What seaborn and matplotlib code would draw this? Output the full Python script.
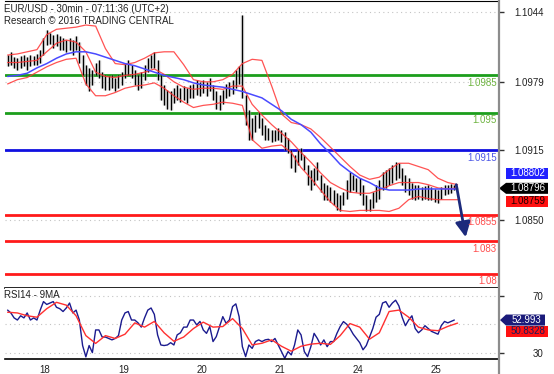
import matplotlib.pyplot as plt
import matplotlib.transforms as mtransforms
import seaborn as sns
from matplotlib.lines import Line2D
from matplotlib.patches import Polygon

# hours of trading time, 0 = 18th 00:00 (weekend skipped)
bar_hours = list(range(-9, 129))
bar_high = [1.1004, 1.1007, 1.1002, 1.1001, 1.1003, 1.1004, 1.1002, 1.1004, 1.1003, 1.1005, 1.1009, 1.1020,
            1.1027, 1.1025, 1.1023, 1.1024, 1.1022, 1.1020, 1.1018, 1.1020, 1.1018, 1.1022, 1.1016, 1.1004,
            1.0995, 1.0992, 1.0990, 1.0997, 1.0999, 1.0988, 1.0985, 1.0984, 1.0985, 1.0983, 1.0985, 1.0988,
            1.0997, 1.0999, 1.0995, 1.0990, 1.0985, 1.0988, 1.0995, 1.1001, 1.1004, 1.1007, 1.0999, 1.0985,
            1.0976, 1.0971, 1.0970, 1.0973, 1.0976, 1.0973, 1.0975, 1.0973, 1.0976, 1.0977, 1.0981, 1.0979,
            1.0981, 1.0979, 1.0983, 1.0976, 1.0970, 1.0967, 1.0971, 1.0977, 1.0979, 1.0981, 1.0990, 1.0994,
            1.1041, 1.0967, 1.0953, 1.0945, 1.0948, 1.0951, 1.0945, 1.0939, 1.0936, 1.0934, 1.0934, 1.0936,
            1.0934, 1.0932, 1.0927, 1.0915, 1.0911, 1.0915, 1.0917, 1.0911, 1.0901, 1.0897, 1.0899, 1.0904,
            1.0892, 1.0885, 1.0883, 1.0881, 1.0878, 1.0875, 1.0873, 1.0876, 1.0887, 1.0895, 1.0892, 1.0889,
            1.0889, 1.0883, 1.0873, 1.0870, 1.0876, 1.0883, 1.0887, 1.0895, 1.0897, 1.0899, 1.0901, 1.0904,
            1.0903, 1.0899, 1.0892, 1.0889, 1.0885, 1.0883, 1.0883, 1.0881, 1.0882, 1.0883, 1.0881, 1.0879,
            1.0878, 1.0881, 1.0883, 1.0883, 1.0884, 1.0883]
bar_low = [1.0994, 1.0995, 1.0992, 1.0990, 1.0992, 1.0994, 1.0990, 1.0994, 1.0995, 1.0995, 1.0997, 1.1004,
           1.1013, 1.1014, 1.1011, 1.1012, 1.1009, 1.1009, 1.1007, 1.1009, 1.1004, 1.1009, 1.0997, 1.0985,
           1.0976, 1.0970, 1.0976, 1.0985, 1.0983, 1.0973, 1.0971, 1.0971, 1.0973, 1.0970, 1.0973, 1.0976,
           1.0983, 1.0985, 1.0983, 1.0976, 1.0971, 1.0973, 1.0981, 1.0988, 1.0992, 1.0992, 1.0981, 1.0962,
           1.0957, 1.0954, 1.0953, 1.0959, 1.0962, 1.0960, 1.0962, 1.0959, 1.0964, 1.0964, 1.0967, 1.0966,
           1.0969, 1.0966, 1.0970, 1.0962, 1.0954, 1.0953, 1.0958, 1.0964, 1.0966, 1.0968, 1.0973, 1.0977,
           1.0964, 1.0939, 1.0925, 1.0925, 1.0932, 1.0936, 1.0929, 1.0925, 1.0925, 1.0923, 1.0924, 1.0925,
           1.0923, 1.0915, 1.0913, 1.0899, 1.0895, 1.0901, 1.0906, 1.0897, 1.0883, 1.0878, 1.0883, 1.0887,
           1.0876, 1.0869, 1.0869, 1.0867, 1.0864, 1.0859, 1.0858, 1.0864, 1.0870, 1.0876, 1.0878, 1.0876,
           1.0873, 1.0864, 1.0858, 1.0858, 1.0861, 1.0867, 1.0870, 1.0878, 1.0880, 1.0883, 1.0885, 1.0887,
           1.0889, 1.0883, 1.0876, 1.0873, 1.0870, 1.0869, 1.0870, 1.0869, 1.0870, 1.0869, 1.0869, 1.0867,
           1.0866, 1.0870, 1.0873, 1.0874, 1.0875, 1.0878]

# indicator lines, read every 3 hours
line_hours = list(range(-9, 130, 3))
bb_upper = [1.1004, 1.1005, 1.1007, 1.1009, 1.1023, 1.1028, 1.1029, 1.1030, 1.1032, 1.1031, 1.1010, 1.0996,
            1.0995, 1.0997, 1.1001, 1.1006, 1.1007, 1.1007, 1.0995, 1.0981, 1.0979, 1.0979, 1.0981, 1.0986,
            1.0996, 1.1000, 1.0999, 1.0975, 1.0949, 1.0941, 1.0939, 1.0935, 1.0927, 1.0918, 1.0909, 1.0900,
            1.0892, 1.0888, 1.0890, 1.0897, 1.0903, 1.0903, 1.0900, 1.0897, 1.0889, 1.0885, 1.0883]
bb_mid = [1.0997, 1.0997, 1.0998, 1.0999, 1.1007, 1.1015, 1.1018, 1.1016, 1.1007, 1.0988, 1.0984, 1.0983,
          1.0985, 1.0986, 1.0988, 1.0991, 1.0986, 1.0979, 1.0974, 1.0972, 1.0973, 1.0973, 1.0972, 1.0975,
          1.0975, 1.0958, 1.0948, 1.0939, 1.0931, 1.0923, 1.0913, 1.0904, 1.0894, 1.0885, 1.0880, 1.0876,
          1.0875, 1.0875, 1.0878, 1.0882, 1.0885, 1.0885, 1.0885, 1.0883, 1.0880, 1.0879, 1.0880]
bb_lower = [1.0977, 1.0981, 1.0983, 1.0988, 1.0993, 1.0997, 1.1000, 1.1001, 1.0977, 1.0966, 1.0966, 1.0969,
            1.0973, 1.0975, 1.0976, 1.0978, 1.0973, 1.0966, 1.0960, 1.0955, 1.0957, 1.0958, 1.0960, 1.0959,
            1.0957, 1.0925, 1.0917, 1.0919, 1.0920, 1.0913, 1.0899, 1.0889, 1.0878, 1.0867, 1.0859, 1.0858,
            1.0859, 1.0859, 1.0859, 1.0858, 1.0861, 1.0869, 1.0872, 1.0870, 1.0869, 1.0869, 1.0869]
ma_long = [1.0984, 1.0985, 1.0987, 1.0992, 1.0996, 1.1001, 1.1005, 1.1007, 1.1007, 1.1005, 1.1002, 1.0999,
           1.0996, 1.0994, 1.0991, 1.0988, 1.0985, 1.0983, 1.0981, 1.0978, 1.0976, 1.0975, 1.0974, 1.0972,
           1.0970, 1.0967, 1.0964, 1.0958, 1.0952, 1.0944, 1.0939, 1.0932, 1.0921, 1.0912, 1.0902, 1.0895,
           1.0889, 1.0885, 1.0880, 1.0878, 1.0878, 1.0878, 1.0879, 1.0879, 1.0879, 1.0879, 1.0879]

rsi14 = [60, 58, 54.5, 53, 56, 54.5, 58, 53, 54.5, 53, 60, 66,
         64, 65, 66, 62, 61, 59, 61.5, 65, 58, 60, 53, 35,
         27, 35, 30, 46, 46, 41, 41, 40, 39, 40, 42, 53,
         58, 59, 53, 53, 51, 48, 54.5, 60, 61.5, 57, 42.5, 35.4,
         35, 35.4, 37, 35.4, 42.5, 44, 48, 48, 53, 53, 49.5, 52,
         46, 43.6, 48.4, 37.8, 41.3, 48.4, 55.4, 50.7, 53, 62.5, 64.4, 55.4,
         34.2, 27.2, 35.4, 33, 37.8, 39, 37.8, 39, 39.4, 37.8, 40, 35.4,
         30.7, 26, 30.7, 28.4, 35.4, 46, 42.5, 30.7, 27.2, 34.2, 43.6, 40,
         35.4, 39, 34.2, 37.8, 37.8, 43.6, 48.4, 51.9, 50, 47, 43, 40,
         37, 32, 35, 41, 47, 55, 57, 65, 66, 62, 65, 67,
         63, 55, 49, 53, 56, 47, 44, 46, 49, 47, 45, 44,
         43, 49, 52, 51, 52, 52.993]
rsi_ma9 = [58.5, 58, 56, 55, 61, 65.5, 63.5, 56, 42, 36.5, 42, 40,
           43, 51, 48, 52, 44, 38, 41, 47, 51.5, 48, 48.4, 54,
           47, 35.4, 36.6, 39, 34.5, 31, 34.5, 36, 36.6, 35.8, 42, 50.5,
           48, 39.5, 44, 59, 60, 55, 48, 46, 45.5, 48.5, 50.8328]

levels = [1.0985, 1.095, 1.0915, 1.0855, 1.083, 1.08]
level_names = ['1.0985', '1.095', '1.0915', '1.0855', '1.083', '1.08']
level_kind = ['green', 'green', 'blue', 'red', 'red', 'red']
price_ticks = [1.1044, 1.0979, 1.0915, 1.0850]
rsi_ticks = [70, 30]
rsi_grid = [70, 50, 30]
day_hours = [0, 24, 48, 72, 96, 120]
day_names = ['18', '19', '20', '21', '24', '25']
quote_high, quote_last, quote_low = 1.08802, 1.08796, 1.08759
rsi_last, rsi_ma_last = 52.993, 50.8328
arrow_start = (128.6, 1.0883)
arrow_end = (131.5, 1.0834)

line_col = {'green': '#1c9e1c', 'blue': '#1010e0', 'red': '#ff1a1a'}
text_col = {'green': '#6db33f', 'blue': '#4d58e6', 'red': '#ff4d4d'}

sns.set_style('white')
plt.rcParams['font.family'] = ['Liberation Sans', 'DejaVu Sans']

W, H = 554, 374
fig = plt.figure(figsize=(W / 100, H / 100), dpi=100)
ax = fig.add_axes([5 / W, 1 - 288 / H, 493 / W, 287 / H])
rax = fig.add_axes([5 / W, 1 - 359 / H, 493 / W, 71 / H])
ident = mtransforms.IdentityTransform()

# ---- price panel
for v in price_ticks:
    ax.axhline(v, color='#c4c4c4', lw=0.8, ls=(0, (1, 3)), zorder=0)
for v, name, k in zip(levels, level_names, level_kind):
    ax.axhline(v, color=line_col[k], lw=2, zorder=2)
    ax.annotate(name, xy=(1, v), xycoords=ax.get_yaxis_transform(), xytext=(-1, -1.8),
                textcoords='offset points', ha='right', va='top', fontsize=7, color=text_col[k],
                zorder=7)

ax.vlines(bar_hours, bar_low, bar_high, colors='#9a9a9a', lw=2.4, alpha=0.55, zorder=3)
ax.vlines(bar_hours, bar_low, bar_high, colors='black', lw=0.8, zorder=3)

for band in (bb_upper, bb_mid, bb_lower):
    sns.lineplot(x=line_hours, y=band, ax=ax, color='#ff3535', lw=0.9, alpha=0.85, sort=False, zorder=4)
sns.lineplot(x=line_hours, y=ma_long, ax=ax, color='#4a4aff', lw=1.1, sort=False, zorder=4)

ax.annotate('', xy=arrow_end, xytext=arrow_start,
            arrowprops=dict(arrowstyle='-|>,head_length=0.9,head_width=0.45', color='#1c2a7c',
                            lw=2, shrinkA=0, shrinkB=0), zorder=6)

ax.set_xlim(-9.8, 141.4)
ax.set_ylim(1.07866, 1.10544)
ax.set_xticks([])
ax.yaxis.tick_right()
ax.set_yticks(price_ticks)
ax.set_yticklabels([f'{v:.4f}' for v in price_ticks])
ax.tick_params(axis='y', direction='out', length=4, width=1, color='#333333', pad=8,
               labelsize=7, labelcolor='#222222')
ax.set_xlabel('')
ax.set_ylabel('')
for s in ('left', 'right'):
    ax.spines[s].set_visible(False)
ax.spines['top'].set_color('black')
ax.spines['bottom'].set_color('black')
ax.spines['bottom'].set_linewidth(1.2)

# ---- RSI panel
for v in rsi_grid:
    rax.axhline(v, color='#c4c4c4', lw=0.8, ls=(0, (1, 3)), zorder=0)
sns.lineplot(x=bar_hours, y=rsi14, ax=rax, color='#1b1b8f', lw=1.0, sort=False)
sns.lineplot(x=line_hours, y=rsi_ma9, ax=rax, color='#ff3030', lw=1.0, sort=False)
rax.set_xlim(-9.8, 141.4)
rax.set_ylim(25.5, 75.6)
rax.yaxis.tick_right()
rax.set_yticks(rsi_ticks)
rax.set_yticklabels([str(v) for v in rsi_ticks])
rax.tick_params(axis='y', direction='out', length=4, width=1, color='#333333', pad=21,
                labelsize=7, labelcolor='#222222')
rax.set_xticks(day_hours)
rax.set_xticklabels(day_names)
rax.tick_params(axis='x', direction='out', length=4, width=1, color='#333333', pad=0,
                labelsize=7, labelcolor='#222222')
shift = mtransforms.ScaledTranslation(2 / 72, 0, fig.dpi_scale_trans)
for lbl in rax.get_xticklabels():
    lbl.set_ha('left')
    lbl.set_transform(lbl.get_transform() + shift)
rax.set_xlabel('')
rax.set_ylabel('')
for s in ('left', 'right', 'top'):
    rax.spines[s].set_visible(False)
rax.spines['bottom'].set_color('black')
rax.spines['bottom'].set_linewidth(1.2)

# right price scale line
fig.add_artist(Line2D([498.5, 498.5], [0, H], transform=ident, color='#8c8c8c', lw=1.6))


def tag(yc, text, fc, tc, tip=None, x0=506, x1=548, h=11):
    pts = [(x0, yc - h / 2), (x1, yc - h / 2), (x1, yc + h / 2), (x0, yc + h / 2)]
    if tip is not None:
        pts.append((tip, yc))
    fig.add_artist(Polygon(pts, closed=True, fc=fc, ec='none', transform=ident))
    fig.text((x0 + x1) / 2 + 0.5, yc, text, transform=ident, ha='center', va='center',
             color=tc, fontsize=7)


y_last = ax.transData.transform((0, quote_last))[1]
tag(y_last + 15, f'{quote_high:.5f}', '#2020ff', 'white')
tag(y_last - 13, f'{quote_low:.5f}', '#ff1010', '#200000')
tag(y_last, f'{quote_last:.5f}', 'black', 'white', tip=499)

y_rsi = rax.transData.transform((0, rsi_last))[1]
tag(y_rsi - 11, f'{rsi_ma_last:.4f}', '#ff1010', '#1b1b5a')
tag(y_rsi, f'{rsi_last:.3f}', '#1b1b7a', 'white', tip=500, x1=545)

# titles
fig.text(4 / W, 1 - 8.5 / H, 'EUR/USD - 30min - 07:11:36 (UTC+2)', fontsize=7, color='#222222', va='center')
fig.text(4 / W, 1 - 21.5 / H, 'Research \u00a9 2016 TRADING CENTRAL', fontsize=7, color='#222222', va='center')
fig.text(4 / W, 1 - 295 / H, 'RSI14 - 9MA', fontsize=7, color='#222222', va='center')

fig.savefig('out.png', dpi=100)
